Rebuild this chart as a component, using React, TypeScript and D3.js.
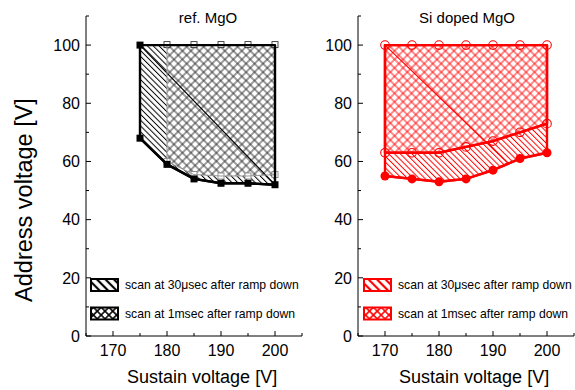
import React from "react";
import * as d3 from "d3";

// ---- data ----
const refSustain30 = [175, 180, 185, 190, 195, 200];
const refLow30 = [68, 59, 54, 52.5, 52.5, 52];
const refSustain1 = [180, 185, 190, 195, 200];
const refLow1 = [60, 55.5, 55, 55, 55.5];
const refHigh = 100;
const refDiagX = [175, 200];
const refDiagY = [100, 52];

const siSustain = [170, 175, 180, 185, 190, 195, 200];
const siLow30 = [55, 54, 53, 54, 57, 61, 63];
const siLow1 = [63, 63, 63, 65, 67, 70, 73];
const siHigh = 100;
const siDiagX = [170, 193];
const siDiagY = [100, 59];

const xMajor = [170, 180, 190, 200];
const xMinor = [165, 175, 185, 195, 205];
const yMajor = [0, 20, 40, 60, 80, 100];
const yMinor = [10, 30, 50, 70, 90, 110];
const legendLabels = ["scan at 30\u03bcsec after ramp down", "scan at 1msec after ramp down"];

const FONT = "'Liberation Sans', Arial, Helvetica, sans-serif";

type PanelProps = {
  id: string;
  x0: number;
  title: string;
  titleX: number;
  color: string;
  innerColor: string;
  crossColor: string;
  s30: number[];
  low30: number[];
  s1: number[];
  low1: number[];
  high: number;
  diagX: number[];
  diagY: number[];
  marker: "square" | "circle";
  lowOutlineWidth: number;
  legendX: number;
  labelOffset: number;
};

function Panel(p: PanelProps) {
  const x = d3.scaleLinear().domain([165, 205]).range([p.x0, p.x0 + 216]);
  const y = d3.scaleLinear().domain([0, 110]).range([336, 16]);
  const line = d3
    .line<[number, number]>()
    .x((d) => x(d[0]))
    .y((d) => y(d[1]));

  const poly30: [number, number][] = [
    [p.s30[0], p.high],
    [p.s30[p.s30.length - 1], p.high],
    ...p.s30.map((s, i) => [s, p.low30[i]] as [number, number]).reverse(),
  ];
  const poly1: [number, number][] = [
    [p.s1[0], p.high],
    [p.s1[p.s1.length - 1], p.high],
    ...p.s1.map((s, i) => [s, p.low1[i]] as [number, number]).reverse(),
  ];
  const low30Line = p.s30.map((s, i) => [s, p.low30[i]] as [number, number]);
  const low1Line = p.s1.map((s, i) => [s, p.low1[i]] as [number, number]);
  const diag = p.diagX.map((s, i) => [s, p.diagY[i]] as [number, number]);

  const axisY = 336;
  const axisX = p.x0;

  return (
    <g>
      <defs>
        <pattern id={`h30-${p.id}`} patternUnits="userSpaceOnUse" width={8} height={4.1} patternTransform="rotate(45)">
          <line x1={0} x2={8} y1={2} y2={2} stroke={p.innerColor} strokeWidth={1.0} />
        </pattern>
        <pattern id={`h1-${p.id}`} patternUnits="userSpaceOnUse" width={6} height={6} patternTransform="rotate(45)">
          <rect width={6} height={6} fill="white" />
          <line x1={0} x2={6} y1={3} y2={3} stroke={p.crossColor} strokeWidth={0.9} />
          <line x1={3} x2={3} y1={0} y2={6} stroke={p.crossColor} strokeWidth={0.9} />
        </pattern>
        <pattern id={`lg30-${p.id}`} patternUnits="userSpaceOnUse" width={8} height={6} patternTransform="rotate(45)">
          <rect width={8} height={6} fill="white" />
          <line x1={0} x2={8} y1={3} y2={3} stroke={p.color} strokeWidth={2.2} />
        </pattern>
        <pattern id={`lg1-${p.id}`} patternUnits="userSpaceOnUse" width={5.5} height={5.5} patternTransform="rotate(45)">
          <rect width={5.5} height={5.5} fill="white" />
          <line x1={0} x2={5.5} y1={2.75} y2={2.75} stroke={p.color} strokeWidth={1.6} />
          <line x1={2.75} x2={2.75} y1={0} y2={5.5} stroke={p.color} strokeWidth={1.6} />
        </pattern>
      </defs>

      {/* fills */}
      <path d={line(poly30) + "Z"} fill={`url(#h30-${p.id})`} stroke="none" />
      <path d={line(poly1) + "Z"} fill={`url(#h1-${p.id})`} stroke="none" />
      <path d={line(diag) || ""} stroke={p.innerColor} strokeWidth={1.2} fill="none" />

      {/* open markers (1 ms) */}
      {p.s1.map((s, i) => (
        <g key={`o1-${i}`}>
          {p.marker === "square" ? (
            <>
              <rect x={x(s) - 3} y={y(p.high) - 3.5} width={6} height={6} fill="white" stroke="#333" strokeWidth={0.9} />
              <rect x={x(s) - 3} y={y(p.low1[i]) - 3} width={6} height={6} fill="white" stroke="#888" strokeWidth={0.9} />
            </>
          ) : (
            <>
              <circle cx={x(s)} cy={y(p.high)} r={4.3} fill="none" stroke={p.color} strokeWidth={1.1} />
              <circle cx={x(s)} cy={y(p.low1[i])} r={4.3} fill="none" stroke={p.color} strokeWidth={1.1} />
            </>
          )}
        </g>
      ))}

      {/* outlines */}
      <path
        d={line(poly1) + "Z"}
        fill="none"
        stroke={p.marker === "square" ? "#999" : p.color}
        strokeWidth={p.lowOutlineWidth}
        strokeLinejoin="round"
      />
      <path d={line(poly30) + "Z"} fill="none" stroke={p.color} strokeWidth={2.4} strokeLinejoin="round" />
      <path d={line(low30Line) || ""} fill="none" stroke={p.color} strokeWidth={2.4} />
      {p.marker === "circle" && <path d={line(low1Line) || ""} fill="none" stroke={p.color} strokeWidth={2.4} />}

      {/* filled markers (30 us) */}
      {p.s30.map((s, i) =>
        p.marker === "square" ? (
          <rect key={`f-${i}`} x={x(s) - 3.5} y={y(p.low30[i]) - 3.5} width={7} height={7} fill={p.color} />
        ) : (
          <circle key={`f-${i}`} cx={x(s)} cy={y(p.low30[i])} r={4.5} fill={p.color} />
        )
      )}
      {p.marker === "square" && (
        <rect x={x(p.s30[0]) - 3.5} y={y(p.high) - 3.5} width={7} height={7} fill={p.color} />
      )}

      {/* axes */}
      <line x1={axisX} x2={axisX} y1={16} y2={axisY} stroke="#000" strokeWidth={1} />
      <line x1={axisX} x2={p.x0 + 216} y1={axisY} y2={axisY} stroke="#000" strokeWidth={1} />
      {yMajor.map((v) => (
        <g key={`ym-${v}`}>
          <line x1={axisX} x2={axisX + 5} y1={y(v)} y2={y(v)} stroke="#000" />
          <text x={axisX - p.labelOffset} y={y(v)} dy="0.36em" textAnchor="end" fontSize={16} fontFamily={FONT}>
            {v}
          </text>
        </g>
      ))}
      {yMinor.map((v) => (
        <line key={`yn-${v}`} x1={axisX} x2={axisX + 3} y1={y(v)} y2={y(v)} stroke="#000" />
      ))}
      {xMajor.map((v) => (
        <g key={`xm-${v}`}>
          <line x1={x(v)} x2={x(v)} y1={axisY} y2={axisY - 5} stroke="#000" />
          <text x={x(v)} y={356} textAnchor="middle" fontSize={16} fontFamily={FONT}>
            {v}
          </text>
        </g>
      ))}
      {xMinor.map((v) => (
        <line key={`xn-${v}`} x1={x(v)} x2={x(v)} y1={axisY} y2={axisY - 3} stroke="#000" />
      ))}
      <text x={x(186.5)} y={383} textAnchor="middle" fontSize={18} fontFamily={FONT}>
        Sustain voltage [V]
      </text>
      <text x={p.titleX} y={23} textAnchor="middle" fontSize={15} fontFamily={FONT}>
        {p.title}
      </text>

      {/* legend */}
      {legendLabels.map((lab, i) => (
        <g key={`lg-${i}`}>
          <rect
            x={p.legendX}
            y={279 + i * 28.5}
            width={27}
            height={12}
            fill={`url(#${i === 0 ? "lg30" : "lg1"}-${p.id})`}
            stroke={p.color}
            strokeWidth={2}
          />
          <text x={p.legendX + 34} y={285 + i * 28.5} dy="0.36em" fontSize={12.2} fontFamily={FONT}>
            {lab}
          </text>
        </g>
      ))}
    </g>
  );
}

export default function App() {
  return (
    <svg
      width={575}
      height={390}
      viewBox="0 0 575 390"
      style={{ position: "absolute", left: 0, top: 0, background: "white" }}
    >
      <rect width={575} height={390} fill="white" />
      <text
        transform="translate(32,200) rotate(-90)"
        textAnchor="middle"
        fontSize={23.5}
        fontFamily={FONT}
      >
        Address voltage [V]
      </text>
      <Panel
        id="ref"
        x0={86}
        title="ref. MgO"
        titleX={208}
        color="#000"
        innerColor="#000"
        crossColor="#222"
        s30={refSustain30}
        low30={refLow30}
        s1={refSustain1}
        low1={refLow1}
        high={refHigh}
        diagX={refDiagX}
        diagY={refDiagY}
        marker="square"
        lowOutlineWidth={1}
        legendX={91}
        labelOffset={6}
      />
      <Panel
        id="si"
        x0={358}
        title="Si doped MgO"
        titleX={467}
        color="#ff0000"
        innerColor="#ff0000"
        crossColor="#ff0000"
        s30={siSustain}
        low30={siLow30}
        s1={siSustain}
        low1={siLow1}
        high={siHigh}
        diagX={siDiagX}
        diagY={siDiagY}
        marker="circle"
        lowOutlineWidth={2.4}
        legendX={364}
        labelOffset={6}
      />
    </svg>
  );
}
